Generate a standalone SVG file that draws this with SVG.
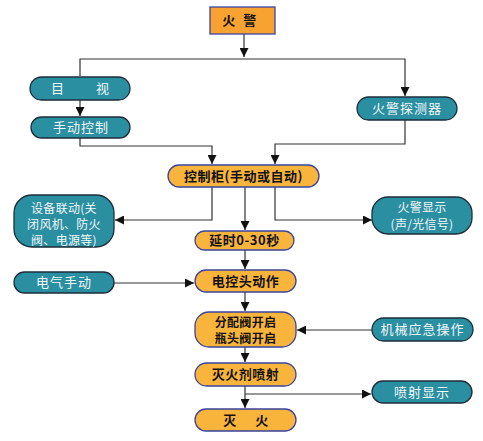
<svg xmlns="http://www.w3.org/2000/svg" width="483" height="441" viewBox="0 0 483 441">
<defs>
<marker id="ah" viewBox="0 0 10 10" refX="10" refY="5" markerWidth="9" markerHeight="9" markerUnits="userSpaceOnUse" orient="auto">
<path d="M0,0 L10,5 L0,10 z" fill="#111"/>
</marker>
<style>
.or{fill:#F9B43C;stroke:#3A44A0;stroke-width:1.3}
.tl{fill:#2B8FA2;stroke:#1C2E3A;stroke-width:1.3}
.tb{font-family:"Noto Sans CJK SC","Noto Sans",sans-serif;font-size:13px;fill:#111;text-anchor:middle;font-weight:bold;letter-spacing:0.5px}
.tw{font-family:"Noto Sans CJK SC","Noto Sans",sans-serif;font-size:13px;fill:#F2F7F8;text-anchor:middle;letter-spacing:1px}
.sm{font-size:12px;letter-spacing:0.3px}
.ln{fill:none;stroke:#333;stroke-width:1.2}
</style>
</defs>
<rect width="483" height="441" fill="#fff"/>
<g id="connectors">
<path class="ln" d="M244,34 V57" marker-end="url(#ah)"/>
<path class="ln" d="M80,76 V59 H405 V96" marker-end="url(#ah)"/>
<path class="ln" d="M80,100 V116" marker-end="url(#ah)"/>
<path class="ln" d="M80,138 V146 H212 V164" marker-end="url(#ah)"/>
<path class="ln" d="M405,120 V144 H275 V164" marker-end="url(#ah)"/>
<path class="ln" d="M212,187 V220 H115" marker-end="url(#ah)"/>
<path class="ln" d="M245,187 V230" marker-end="url(#ah)"/>
<path class="ln" d="M275,187 V220 H372" marker-end="url(#ah)"/>
<path class="ln" d="M245,250 V269" marker-end="url(#ah)"/>
<path class="ln" d="M114,283 H194" marker-end="url(#ah)"/>
<path class="ln" d="M245,292 V311" marker-end="url(#ah)"/>
<path class="ln" d="M372,330 H297" marker-end="url(#ah)"/>
<path class="ln" d="M245,347 V362" marker-end="url(#ah)"/>
<path class="ln" d="M245,386 V408" marker-end="url(#ah)"/>
<path class="ln" d="M245,394 H371" marker-end="url(#ah)"/>
</g>
<g id="n-fire"><rect class="or" x="210" y="7" width="65" height="27" style="fill:#F8A232"/><text class="tb" x="229" y="25">火</text><text class="tb" x="250" y="25">警</text></g>
<g id="n-visual"><rect class="tl" x="30" y="77" width="100" height="23" rx="11.5"/><text class="tw" x="58" y="93">目</text><text class="tw" x="103" y="93">视</text></g>
<g id="n-manual"><rect class="tl" x="31" y="117" width="99" height="21" rx="10.5"/><text class="tw" x="81" y="132">手动控制</text></g>
<g id="n-detector"><rect class="tl" x="357" y="97" width="100" height="23" rx="11.5"/><text class="tw" x="407" y="113">火警探测器</text></g>
<g id="n-cabinet"><rect class="or" x="168" y="165" width="151" height="22" rx="11"/><text class="tb" x="243.5" y="181">控制柜(手动或自动)</text></g>
<g id="n-linkage"><rect class="tl" x="14" y="195" width="100" height="52" rx="18"/><text class="tw sm" x="64" y="213">设备联动(关</text><text class="tw sm" x="64" y="229">闭风机、防火</text><text class="tw sm" x="64" y="245">阀、电源等)</text></g>
<g id="n-display"><rect class="tl" x="372" y="197" width="100" height="37" rx="16"/><text class="tw sm" x="422" y="212">火警显示</text><text class="tw sm" x="422" y="229">(声/光信号)</text></g>
<g id="n-delay"><rect class="or" x="195" y="231" width="99" height="19" rx="9.5"/><text class="tb" x="244.5" y="245">延时0-30秒</text></g>
<g id="n-electric"><rect class="tl" x="14" y="272" width="100" height="21" rx="10.5"/><text class="tw" x="64" y="287">电气手动</text></g>
<g id="n-head"><rect class="or" x="195" y="270" width="101" height="22" rx="11"/><text class="tb" x="245.5" y="286">电控头动作</text></g>
<g id="n-valve"><rect class="or" x="195" y="312" width="101" height="35" rx="14"/><text class="tb sm" x="245.5" y="327">分配阀开启</text><text class="tb sm" x="245.5" y="343">瓶头阀开启</text></g>
<g id="n-mech"><rect class="tl" x="372" y="318" width="101" height="23" rx="11.5"/><text class="tw" x="422.5" y="334">机械应急操作</text></g>
<g id="n-spray"><rect class="or" x="195" y="363" width="101" height="23" rx="11.5"/><text class="tb" x="245.5" y="379">灭火剂喷射</text></g>
<g id="n-spraydisp"><rect class="tl" x="372" y="381" width="100" height="22" rx="11"/><text class="tw" x="422" y="397">喷射显示</text></g>
<g id="n-out"><rect class="or" x="195" y="409" width="101" height="22" rx="11"/><text class="tb" x="230" y="425">灭</text><text class="tb" x="262" y="425">火</text></g>
</svg>
